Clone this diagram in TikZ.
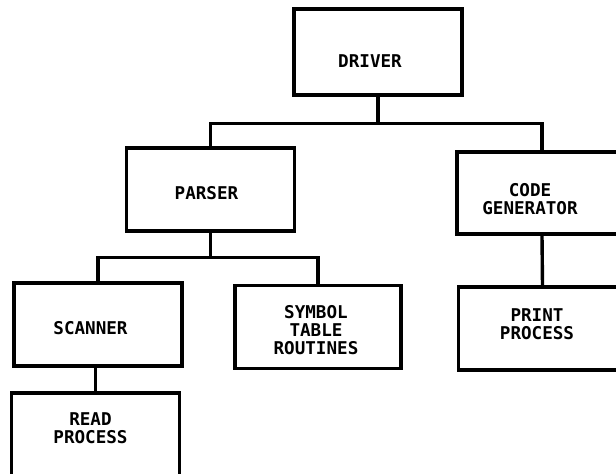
\documentclass[tikz,border=0pt]{standalone}
\usepackage{fontspec}
\newfontfamily\boxfont{DejaVu Sans Mono}
\tikzset{
  % Module box: heavy outline, label placed on its own
  modbox/.style={draw, rectangle, line width=1.7pt, minimum width=84pt,
                 minimum height=41.5pt, inner sep=0pt},
  % Box label: bold mono capitals
  modlbl/.style={align=center, inner sep=0pt,
                 font=\boxfont\bfseries\fontsize{8.8}{9}\selectfont},
  % Tree connector
  treelink/.style={line width=1.7pt}
}
\begin{document}
\begin{tikzpicture}[x=0.5pt, y=-0.5pt]
\clip (0,0) rectangle (616,473);

% Module boxes
\node[modbox, minimum height=43pt] (driver) at (378,52) {};
\node[modbox] (parser) at (210.5,189.5) {};
\node[modbox, minimum width=85pt, minimum height=41pt] (codegen) at (542,193) {};
\node[modbox] (scanner) at (98,324.5) {};
\node[modbox, minimum width=83pt] (symtab) at (318,327) {};
\node[modbox] (print) at (542.5,328.5) {};
\node[modbox] (read) at (95.5,434.5) {};

% Labels
\node[modlbl] (driver-t) at (370,61) {DRIVER};
\node[modlbl] (parser-t) at (206.5,193) {PARSER};
\node[modlbl] (codegen-t) at (530,199) {CODE\\GENERATOR};
\node[modlbl] (scanner-t) at (90.5,328) {SCANNER};
\node[modlbl] (symtab-t) at (316,330) {SYMBOL\\TABLE\\ROUTINES};
\node[modlbl] (print-t) at (537,324) {PRINT\\PROCESS};
\node[modlbl] (read-t) at (90.5,428) {READ\\PROCESS};

% Calling tree
\draw[treelink] (driver.south) -- ++(0,27) coordinate (drv-j);
\draw[treelink] (parser.north) |- (drv-j) -| (codegen.north);
\draw[treelink] (parser.south) -- ++(0,25) coordinate (par-j);
\draw[treelink] (scanner.north) |- (par-j) -| (symtab.north);
\draw[treelink] (codegen.south) -- (print.north);
\draw[treelink] (read.north |- scanner.south) -- (read.north);

\end{tikzpicture}
\end{document}
